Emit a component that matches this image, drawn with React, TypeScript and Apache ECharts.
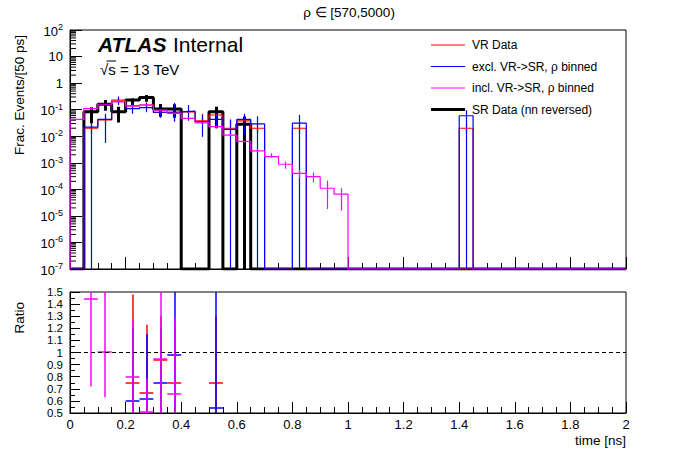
import React, { useEffect, useRef } from 'react'
import * as echarts from 'echarts'

/*==================================================================
    DATA  (bins of 50 ps on [0, 2] ns, empty bins are left out)
==================================================================*/
const BIN_WIDTH = 0.05
const N_BINS = 40
const Y_MIN = 1e-7
const Y_MAX = 100

// [bin, fraction]
const VR_DATA: [number, number][] = [
  [1, 0.02], [2, 0.041], [3, 0.23], [4, 0.14], [5, 0.15], [6, 0.079], [7, 0.075], [8, 0.083],
  [9, 0.038], [10, 0.063], [11, 0.02], [12, 0.038], [13, 0.02], [16, 0.02], [28, 0.02],
]
const EXCL_DATA: [number, number][] = [
  [1, 0.022], [2, 0.043], [3, 0.2], [4, 0.11], [5, 0.12], [6, 0.08], [7, 0.083], [8, 0.088],
  [9, 0.035], [10, 0.043], [11, 0.018], [12, 0.043], [13, 0.029], [16, 0.031], [28, 0.059],
]
const INCL_DATA: [number, number][] = [
  [0, 0.043], [1, 0.11], [2, 0.16], [3, 0.2], [4, 0.14], [5, 0.15], [6, 0.096], [7, 0.072],
  [8, 0.047], [9, 0.032], [10, 0.023], [11, 0.011], [12, 0.0064], [13, 0.0028], [14, 0.0017],
  [15, 0.00088], [16, 0.0004], [17, 0.0003], [18, 0.00011], [19, 0.000066],
]
const SR_DATA: [number, number][] = [
  [1, 0.083], [2, 0.16], [3, 0.083], [4, 0.23], [5, 0.29], [6, 0.105], [7, 0.105], [10, 0.083], [12, 0.028],
]

// [bin, low, high]
const VR_ERR: [number, number, number][] = [
  [1, 0.012, 0.03], [2, 0.03, 0.055], [3, 0.19, 0.28], [4, 0.11, 0.17], [5, 0.12, 0.19], [6, 0.06, 0.1],
  [7, 0.038, 0.083], [8, 0.065, 0.1], [9, 0.03, 0.07], [10, 0.05, 0.08], [11, 0.012, 0.044],
  [12, 0.03, 0.05], [13, 0.012, 0.028], [16, 0.012, 0.028], [28, 0.012, 0.028],
]
const EXCL_ERR: [number, number, number][] = [
  [1, 0, 0.032], [2, 0.0055, 0.07], [3, 0.15, 0.31], [4, 0.07, 0.17], [5, 0.08, 0.18], [6, 0.05, 0.13],
  [7, 0.035, 0.18], [8, 0.038, 0.15], [9, 0.0095, 0.063], [10, 0.02, 0.09], [11, 0, 0.04],
  [12, 0.011, 0.07], [13, 0, 0.057], [16, 0, 0.063], [28, 0, 0.095],
]
const INCL_ERR: [number, number, number][] = [
  [1, 0.1, 0.12], [2, 0.15, 0.17], [3, 0.19, 0.21], [4, 0.13, 0.15], [5, 0.14, 0.16], [6, 0.09, 0.1],
  [7, 0.067, 0.077], [8, 0.044, 0.05], [9, 0.03, 0.034], [10, 0.021, 0.025], [11, 0.01, 0.012],
  [12, 0.0058, 0.0068], [13, 0.0025, 0.0032], [14, 0.0015, 0.0023], [15, 0.0006, 0.0011],
  [16, 0.00026, 0.00053], [17, 0.00018, 0.00043], [18, 0.000018, 0.00021], [19, 0.000016, 0.00011],
]
const SR_ERR: [number, number, number][] = [
  [1, 0.031, 0.122], [2, 0.091, 0.23], [3, 0.033, 0.128], [4, 0.149, 0.266], [5, 0.198, 0.354],
  [6, 0.054, 0.163], [7, 0.05, 0.16], [10, 0.02, 0.128], [12, 0, 0.055],
]

// ratio panel: [bin, ratio, low, high]
const RATIO_VR: [number, number, number, number][] = [
  [4, 0.75, 0.3, 1.48], [5, 0.67, 0.3, 1.23], [6, 0.94, 0.6, 1.3], [7, 0.75, 0.4, 1.2], [10, 0.75, 0.3, 1.3],
]
const RATIO_EXCL: [number, number, number, number][] = [
  [4, 0.6, 0.3, 1.2], [5, 0.62, 0.3, 1.15], [6, 0.75, 0.4, 1.2], [7, 0.98, 0.3, 1.6], [10, 0.54, 0, 1.6],
]
const RATIO_INCL: [number, number, number, number][] = [
  [1, 1.446, 0.72, 2], [2, 1.008, 0.63, 2], [4, 0.8, 0.3, 1.27], [5, 0.51, 0.3, 0.78],
  [6, 0.95, 0.3, 1.6], [7, 0.66, 0.3, 1.29],
]
const RATIO_REF = 1

const LEGEND = [
  { label: 'VR Data', color: '#ff0000', width: 1 },
  { label: 'excl. VR->SR, ρ binned', color: '#0000ff', width: 1 },
  { label: 'incl. VR->SR, ρ binned', color: '#ff00ff', width: 1 },
  { label: 'SR Data (nn reversed)', color: '#000000', width: 3 },
]

/*==================================================================
    HELPERS
==================================================================*/
const FONT = '"Liberation Sans", Arial, Helvetica, sans-serif'

function stepPoints(bins: [number, number][]) {
  const vals: number[] = new Array(N_BINS).fill(0)
  bins.forEach(([i, v]) => { vals[i] = v })
  const pts: number[][] = [[0, Y_MIN]]
  vals.forEach((v, i) => {
    const y = v > 0 ? v : Y_MIN
    pts.push([i * BIN_WIDTH, y], [(i + 1) * BIN_WIDTH, y])
  })
  pts.push([N_BINS * BIN_WIDTH, Y_MIN])
  return pts
}

function errorSegments(errs: [number, number, number][]) {
  return errs.map(([i, lo, hi]) => {
    const x = (i + 0.5) * BIN_WIDTH
    return { coords: [[x, Math.max(lo, Y_MIN)], [x, Math.min(hi, Y_MAX)]] }
  })
}

function ratioSegments(pts: [number, number, number, number][]) {
  const out: { coords: number[][] }[] = []
  pts.forEach(([i, r, lo, hi]) => {
    const x0 = i * BIN_WIDTH
    const xc = x0 + BIN_WIDTH / 2
    if (r >= 0.5 && r <= 1.5) out.push({ coords: [[x0, r], [x0 + BIN_WIDTH, r]] })
    out.push({ coords: [[xc, Math.max(lo, 0.5)], [xc, Math.min(hi, 1.5)]] })
  })
  return out
}

// ROOT-style minor ticks at 2..9 x 10^k on the log axis
const LOG_MINOR: number[][] = []
for (let k = -7; k < 2; k++) for (let m = 2; m <= 9; m++) LOG_MINOR.push([0, m * Math.pow(10, k)])

function logLabel(v: number) {
  const e = Math.round(Math.log10(v))
  if (e === 0) return '1'
  if (e === 1) return '10'
  return `{b|10}{s|${e}}`
}

/*==================================================================
    CHART
==================================================================*/
function Chart() {
  const ref = useRef<HTMLDivElement>(null)

  useEffect(() => {
    if (!ref.current) return
    const chart = echarts.init(ref.current, undefined, { renderer: 'svg' })

    const hist = (bins: [number, number][], color: string, width: number) => ({
      type: 'line', xAxisIndex: 0, yAxisIndex: 0, data: stepPoints(bins), symbol: 'none', silent: true,
      lineStyle: { color, width }, clip: true,
    })
    const err = (errs: [number, number, number][], color: string, width: number) => ({
      type: 'lines', coordinateSystem: 'cartesian2d', xAxisIndex: 0, yAxisIndex: 0, silent: true,
      data: errorSegments(errs), lineStyle: { color, width, opacity: 1 }, clip: true,
    })
    const ratio = (pts: [number, number, number, number][], color: string) => ({
      type: 'lines', coordinateSystem: 'cartesian2d', xAxisIndex: 1, yAxisIndex: 1, silent: true,
      data: ratioSegments(pts), lineStyle: { color, width: 1.5, opacity: 1 }, clip: true,
    })

    const axisText = { color: '#000', fontFamily: FONT, fontSize: 13 }
    const num = (v: number) => String(Math.round(v * 10) / 10)

    const legendEls: any[] = []
    LEGEND.forEach((l, i) => {
      const y = 45 + i * 21.5
      legendEls.push({
        type: 'line', shape: { x1: 431, y1: y, x2: 465, y2: y }, style: { stroke: l.color, lineWidth: l.width },
      })
      legendEls.push({
        type: 'text', x: 472, y,
        style: { text: l.label, fill: '#000', fontSize: 12, fontFamily: FONT, textVerticalAlign: 'middle', verticalAlign: 'middle' },
      })
    })

    chart.setOption({
      animation: false,
      grid: [
        { left: 70, top: 30, width: 556, height: 239, show: true, borderColor: '#000', borderWidth: 1, backgroundColor: 'transparent' },
        { left: 70, top: 292, width: 556, height: 121, show: true, borderColor: '#000', borderWidth: 1, backgroundColor: 'transparent' },
      ],
      xAxis: [
        {
          gridIndex: 0, type: 'value', min: 0, max: 2, interval: 0.2,
          axisLine: { show: true, lineStyle: { color: '#000' } },
          axisTick: { show: true, inside: true, length: 12, lineStyle: { color: '#000' } },
          minorTick: { show: true, splitNumber: 4, length: 6, lineStyle: { color: '#000' } },
          axisLabel: { show: false }, splitLine: { show: false },
        },
        {
          gridIndex: 1, type: 'value', min: 0, max: 2, interval: 0.2,
          axisLine: { show: true, lineStyle: { color: '#000' } },
          axisTick: { show: true, inside: true, length: 11, lineStyle: { color: '#000' } },
          minorTick: { show: true, splitNumber: 4, length: 6, lineStyle: { color: '#000' } },
          axisLabel: { ...axisText, margin: 5, formatter: num }, splitLine: { show: false },
        },
      ],
      yAxis: [
        {
          gridIndex: 0, type: 'log', logBase: 10, min: Y_MIN, max: Y_MAX,
          axisLine: { show: true, lineStyle: { color: '#000' } },
          axisTick: { show: true, inside: true, length: 12, lineStyle: { color: '#000' } },
          axisLabel: {
            ...axisText, margin: 7, formatter: logLabel,
            rich: {
              b: { fontSize: 13, fontFamily: FONT, color: '#000', verticalAlign: 'bottom' },
              s: { fontSize: 9, fontFamily: FONT, color: '#000', verticalAlign: 'top', padding: [0, 0, 6, 0] },
            },
          },
          splitLine: { show: false },
        },
        {
          gridIndex: 1, type: 'value', min: 0.5, max: 1.5, interval: 0.1,
          axisLine: { show: true, lineStyle: { color: '#000' } },
          axisTick: { show: true, inside: true, length: 10, lineStyle: { color: '#000' } },
          minorTick: { show: true, splitNumber: 2, length: 5, lineStyle: { color: '#000' } },
          axisLabel: {
            color: '#000', fontFamily: FONT, fontSize: 11.5, lineHeight: 11, margin: 7, formatter: num,
            showMinLabel: true, showMaxLabel: true,
          },
          splitLine: { show: false },
        },
      ],
      series: [
        {
          type: 'custom', xAxisIndex: 0, yAxisIndex: 0, silent: true, data: LOG_MINOR, clip: false,
          renderItem: (_p: any, api: any) => {
            const p = api.coord([0, api.value(1)])
            return { type: 'line', shape: { x1: p[0], y1: p[1], x2: p[0] + 6, y2: p[1] }, style: { stroke: '#000', lineWidth: 1 } }
          },
        },
        hist(SR_DATA, '#000000', 3),
        err(SR_ERR, '#000000', 3),
        hist(VR_DATA, '#ff0000', 1.2),
        err(VR_ERR, '#ff0000', 1.2),
        hist(EXCL_DATA, '#0000ff', 1.2),
        err(EXCL_ERR, '#0000ff', 1.2),
        hist(INCL_DATA, '#ff00ff', 1.2),
        err(INCL_ERR, '#ff00ff', 1.2),
        {
          type: 'line', xAxisIndex: 1, yAxisIndex: 1, data: [], silent: true,
          markLine: {
            silent: true, symbol: 'none', label: { show: false }, animation: false,
            lineStyle: { color: '#000', width: 1, type: [4, 3] }, data: [{ yAxis: RATIO_REF }],
          },
        },
        ratio(RATIO_VR, '#ff0000'),
        ratio(RATIO_EXCL, '#0000ff'),
        ratio(RATIO_INCL, '#ff00ff'),
      ],
      graphic: {
        elements: [
          {
            type: 'text', x: 349, y: 12,
            style: { text: 'ρ ∈ [570,5000)', fill: '#000', fontSize: 13.5, fontFamily: FONT, textAlign: 'center', align: 'center', textVerticalAlign: 'middle', verticalAlign: 'middle' },
          },
          {
            type: 'text', x: 98, y: 44,
            style: { text: 'ATLAS', fill: '#000', fontSize: 21, fontWeight: 'bold', fontStyle: 'italic', fontFamily: FONT, textVerticalAlign: 'middle', verticalAlign: 'middle' },
          },
          {
            type: 'text', x: 173, y: 44,
            style: { text: 'Internal', fill: '#000', fontSize: 21, fontFamily: FONT, textVerticalAlign: 'middle', verticalAlign: 'middle' },
          },
          {
            type: 'text', x: 100, y: 69,
            style: { text: '√s = 13 TeV', fill: '#000', fontSize: 15, fontFamily: FONT, textVerticalAlign: 'middle', verticalAlign: 'middle' },
          },
          { type: 'line', shape: { x1: 106.5, y1: 61, x2: 116, y2: 61 }, style: { stroke: '#000', lineWidth: 1 } },
          {
            type: 'text', x: 19, y: 35, rotation: Math.PI / 2,
            style: { text: 'Frac. Events/[50 ps]', fill: '#000', fontSize: 13.5, fontFamily: FONT, textAlign: 'right', align: 'right', textVerticalAlign: 'middle', verticalAlign: 'middle' },
          },
          {
            type: 'text', x: 19, y: 302, rotation: Math.PI / 2,
            style: { text: 'Ratio', fill: '#000', fontSize: 13.5, fontFamily: FONT, textAlign: 'right', align: 'right', textVerticalAlign: 'middle', verticalAlign: 'middle' },
          },
          {
            type: 'text', x: 626, y: 440,
            style: { text: 'time [ns]', fill: '#000', fontSize: 13.5, fontFamily: FONT, textAlign: 'right', align: 'right', textVerticalAlign: 'middle', verticalAlign: 'middle' },
          },
          ...legendEls,
        ],
      },
    })

    return () => chart.dispose()
  }, [])

  return <div ref={ref} style={{ position: 'fixed', left: 0, top: 0, width: 696, height: 472, background: '#fff' }} />
}

export default function App() {
  return <Chart />
}
